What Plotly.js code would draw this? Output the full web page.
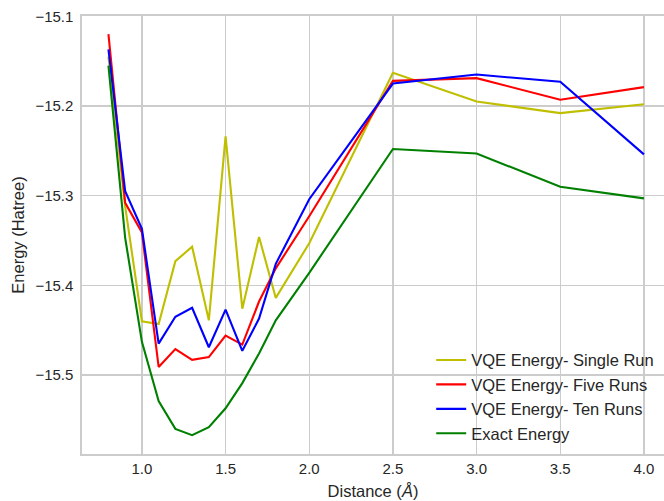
<!DOCTYPE html>
<html>
<head>
<meta charset="utf-8">
<script src="https://cdn.plot.ly/plotly-3.0.1.min.js"></script>
<style>html,body{margin:0;padding:0;background:#fff;}#chart{width:664px;height:501px;}</style>
</head>
<body>
<div id="chart"></div>
<script>
const distance = [0.8, 0.9, 1.0, 1.1, 1.2, 1.3, 1.4, 1.5, 1.6, 1.7, 1.8, 2.0, 2.5, 3.0, 3.5, 4.0];
const singleRun = [-15.145, -15.312, -15.440, -15.443, -15.373, -15.357, -15.439, -15.234, -15.426, -15.346, -15.414, -15.353, -15.163, -15.195, -15.208, -15.198];
const fiveRuns = [-15.120, -15.308, -15.341, -15.491, -15.471, -15.483, -15.480, -15.456, -15.466, -15.418, -15.381, -15.323, -15.172, -15.169, -15.193, -15.179];
const tenRuns = [-15.137, -15.295, -15.337, -15.465, -15.435, -15.425, -15.469, -15.427, -15.473, -15.437, -15.376, -15.304, -15.175, -15.165, -15.173, -15.254];
const exactEnergy = [-15.155, -15.347, -15.463, -15.529, -15.560, -15.567, -15.558, -15.537, -15.509, -15.476, -15.439, -15.386, -15.248, -15.253, -15.290, -15.303];
const seriesNames = ['VQE Energy- Single Run', 'VQE Energy- Five Runs', 'VQE Energy- Ten Runs', 'Exact Energy'];
const seriesColors = ['#bfbf00', '#ff0000', '#0000ff', '#008000'];
const xTicks = [1.0, 1.5, 2.0, 2.5, 3.0, 3.5, 4.0];
const yTicks = [-15.5, -15.4, -15.3, -15.2, -15.1];

const seriesValues = [singleRun, fiveRuns, tenRuns, exactEnergy];
const traces = seriesValues.map((vals, i) => ({
  x: distance, y: vals, type: 'scatter', mode: 'lines',
  name: seriesNames[i], legendgroup: 'g' + i,
  line: {color: seriesColors[i], width: 2.1}
}));

const fam = '"Liberation Sans", Arial, sans-serif';
const tickFont = {family: fam, size: 15, color: '#262626'};
const labelFont = {family: fam, size: 16.5, color: '#262626'};
const layout = {
  width: 664, height: 501,
  margin: {l: 82, r: 0, t: 16, b: 47, pad: 0},
  paper_bgcolor: '#ffffff', plot_bgcolor: '#ffffff',
  font: labelFont,
  showlegend: true,
  legend: {x: 0.6, y: 0.254, xanchor: 'left', yanchor: 'top', bgcolor: 'rgba(0,0,0,0)', borderwidth: 0, tracegroupgap: 0, font: labelFont},
  xaxis: {
    range: [0.642, 4.120], tickvals: xTicks, tickformat: '.1f',
    showgrid: true, gridcolor: '#cccccc', gridwidth: 1.2,
    zeroline: false, showline: true, linecolor: '#cccccc', linewidth: 1.6, mirror: true,
    ticks: '', tickfont: tickFont,
    title: {text: 'Distance (<i>Å</i>)', font: labelFont, standoff: 10}
  },
  yaxis: {
    range: [-15.588, -15.0997], tickvals: yTicks, tickformat: '.1f',
    showgrid: true, gridcolor: '#cccccc', gridwidth: 1.2,
    zeroline: false, showline: true, linecolor: '#cccccc', linewidth: 1.6,
    ticks: '', tickfont: tickFont, ticklabelstandoff: 4,
    title: {text: 'Energy (Hatree)', font: labelFont, standoff: 6}
  }
};
Plotly.newPlot('chart', traces, layout, {displayModeBar: false, staticPlot: true});
</script>
</body>
</html>
